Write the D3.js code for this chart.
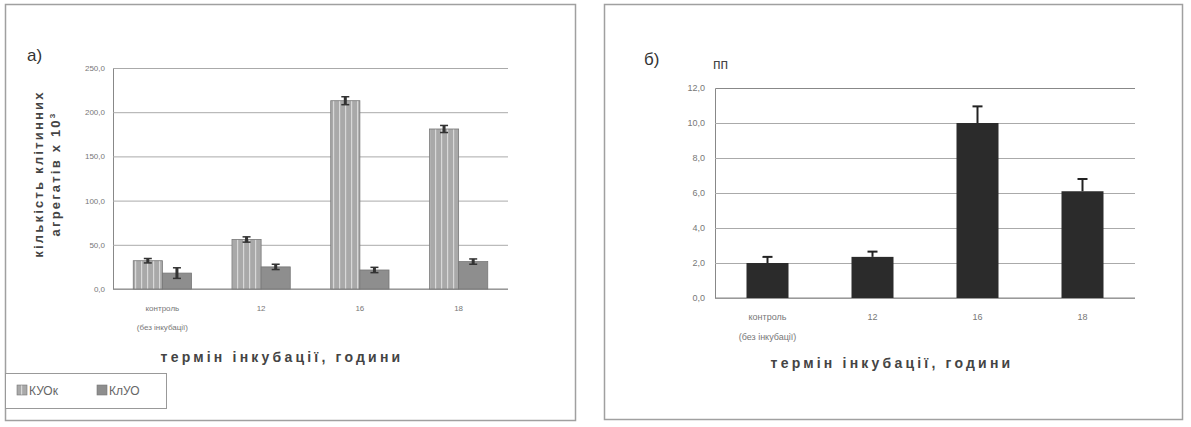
<!DOCTYPE html>
<html>
<head>
<meta charset="utf-8">
<script src="https://cdn.jsdelivr.net/npm/d3@7"></script>
<style>
  body { margin: 0; background: #fff; }
  svg { font-family: "Liberation Sans", Arial, sans-serif; }
</style>
</head>
<body>
<div id="chart-area"></div>
<script>
// data
const categories = [["контроль", "(без інкубації)"], ["12"], ["16"], ["18"]]
const seriesNames = ["КУОк", "КлУО"]
const kuokValues = [32, 56, 213, 181]
const kuokErrors = [2.5, 3, 4.5, 4]
const kluoValues = [18, 25, 21.5, 31]
const kluoErrors = [6, 3, 3, 3]
const ticksA = [0, 50, 100, 150, 200, 250]

const ppValues = [2.0, 2.35, 10.0, 6.1]
const ppErrors = [0.35, 0.3, 0.95, 0.7]
const ticksB = [0, 2, 4, 6, 8, 10, 12]

const fmt = v => d3.format(".1f")(v).replace(".", ",")
const catKeys = categories.map((c, i) => i)

const svg = d3.select("#chart-area").append("svg")
  .attr("width", 1191)
  .attr("height", 427)

const defs = svg.append("defs")
const pat = defs.append("pattern")
  .attr("id", "stripes")
  .attr("patternUnits", "userSpaceOnUse")
  .attr("width", 6)
  .attr("height", 10)
pat.append("rect").attr("width", 6).attr("height", 10).attr("fill", "#a9a9a9")
pat.append("rect").attr("x", 3).attr("width", 1.2).attr("height", 10).attr("fill", "#d8d8d8")

// panel frames
svg.append("rect").attr("x", 5.5).attr("y", 4.5).attr("width", 570).attr("height", 416)
  .attr("fill", "none").attr("stroke", "#a0a0a0").attr("stroke-width", 1.5)
svg.append("rect").attr("x", 604.5).attr("y", 4.5).attr("width", 578).attr("height", 415)
  .attr("fill", "none").attr("stroke", "#a0a0a0").attr("stroke-width", 1.5)

// ---------- chart a) ----------
const A = { LEFT: 113, RIGHT: 508, TOP: 68, BOTTOM: 289 }

const xA = d3.scaleBand().domain(catKeys).range([A.LEFT, A.RIGHT])
  .paddingInner(0.41).paddingOuter(0.205)
const xA2 = d3.scaleBand().domain([0, 1]).range([0, xA.bandwidth()])
const yA = d3.scaleLinear().domain([0, 250]).range([A.BOTTOM, A.TOP])

const gA = svg.append("g")

gA.append("g")
  .attr("transform", `translate(${A.LEFT}, 0)`)
  .call(d3.axisLeft(yA).tickValues(ticksA).tickFormat(fmt).tickSize(-(A.RIGHT - A.LEFT)).tickPadding(8))
  .call(g => g.select(".domain").attr("stroke", "#888"))
  .call(g => g.selectAll(".tick line").attr("stroke", "#aaa"))
  .call(g => g.selectAll(".tick text").attr("fill", "#777").attr("font-size", 8))

gA.append("line")
  .attr("x1", A.LEFT).attr("x2", A.RIGHT).attr("y1", A.BOTTOM).attr("y2", A.BOTTOM)
  .attr("stroke", "#888")

const seriesA = [
  { values: kuokValues, errors: kuokErrors, fill: "url(#stripes)" },
  { values: kluoValues, errors: kluoErrors, fill: "#8e8e8e" }
]

seriesA.forEach((s, si) => {
  const bars = gA.append("g")
  bars.selectAll("rect")
    .data(s.values)
    .enter().append("rect")
    .attr("x", (d, i) => xA(i) + xA2(si))
    .attr("y", d => yA(d))
    .attr("width", xA2.bandwidth())
    .attr("height", d => A.BOTTOM - yA(d))
    .attr("fill", s.fill)
    .attr("stroke", "#777")
    .attr("stroke-width", 0.8)

  const err = gA.append("g").attr("stroke", "#333")
  s.values.forEach((v, i) => {
    const cx = xA(i) + xA2(si) + xA2.bandwidth() / 2
    const e = s.errors[i]
    err.append("line").attr("x1", cx).attr("x2", cx)
      .attr("y1", yA(v + e)).attr("y2", yA(v - e)).attr("stroke-width", 3)
    err.append("line").attr("x1", cx - 4).attr("x2", cx + 4)
      .attr("y1", yA(v + e)).attr("y2", yA(v + e)).attr("stroke-width", 1.5)
    err.append("line").attr("x1", cx - 4).attr("x2", cx + 4)
      .attr("y1", yA(v - e)).attr("y2", yA(v - e)).attr("stroke-width", 1.5)
  })
})

// category labels
categories.forEach((c, i) => {
  const t = gA.append("text")
    .attr("x", xA(i) + xA.bandwidth() / 2)
    .attr("y", 311)
    .attr("text-anchor", "middle")
    .attr("font-size", 8)
    .attr("fill", "#777")
  c.forEach((line, li) => t.append("tspan")
    .attr("x", xA(i) + xA.bandwidth() / 2)
    .attr("dy", li === 0 ? 0 : 19)
    .text(line))
})

gA.append("text")
  .attr("x", 282).attr("y", 362)
  .attr("text-anchor", "middle")
  .attr("font-size", 14).attr("font-weight", "bold")
  .attr("letter-spacing", 3.2)
  .attr("fill", "#444")
  .text("термін інкубації, години")

// y axis title, two lines rotated
const yTitle = gA.append("text")
  .attr("transform", "rotate(-90)")
  .attr("text-anchor", "middle")
  .attr("font-size", 13).attr("font-weight", "bold")
  .attr("letter-spacing", 2.2)
  .attr("fill", "#444")
yTitle.append("tspan").attr("x", -174).attr("y", 43).text("кількість клітинних")
const l2 = yTitle.append("tspan").attr("x", -174).attr("y", 60).text("агрегатів х 10")
l2.append("tspan").attr("dy", -5).attr("font-size", 8).text("3")

gA.append("text")
  .attr("x", 27).attr("y", 61)
  .attr("font-size", 17)
  .attr("fill", "#333")
  .text("а)")

// legend
const legend = gA.append("g")
legend.append("rect").attr("x", 5.5).attr("y", 373.5).attr("width", 161).attr("height", 35)
  .attr("fill", "#fff").attr("stroke", "#999")
const legendX = [17, 97]
seriesNames.forEach((name, i) => {
  legend.append("rect")
    .attr("x", legendX[i]).attr("y", 385).attr("width", 10).attr("height", 10)
    .attr("fill", seriesA[i].fill).attr("stroke", "#777").attr("stroke-width", 0.6)
  legend.append("text")
    .attr("x", legendX[i] + 12).attr("y", 395)
    .attr("font-size", 12).attr("fill", "#666")
    .text(name)
})

// ---------- chart б) ----------
const B = { LEFT: 715, RIGHT: 1135, TOP: 88, BOTTOM: 298 }

const xB = d3.scaleBand().domain(catKeys).range([B.LEFT, B.RIGHT])
  .paddingInner(0.6).paddingOuter(0.3)
const yB = d3.scaleLinear().domain([0, 12]).range([B.BOTTOM, B.TOP])

const gB = svg.append("g")

gB.append("g")
  .attr("transform", `translate(${B.LEFT}, 0)`)
  .call(d3.axisLeft(yB).tickValues(ticksB).tickFormat(fmt).tickSize(-(B.RIGHT - B.LEFT)).tickPadding(10))
  .call(g => g.select(".domain").attr("stroke", "#888"))
  .call(g => g.selectAll(".tick line").attr("stroke", "#aaa"))
  .call(g => g.selectAll(".tick").filter(d => d === 12).select("line").attr("stroke", "none"))
  .call(g => g.selectAll(".tick text").attr("fill", "#777").attr("font-size", 9))

gB.append("line")
  .attr("x1", B.LEFT).attr("x2", B.RIGHT).attr("y1", B.BOTTOM).attr("y2", B.BOTTOM)
  .attr("stroke", "#888")

gB.selectAll(".bar")
  .data(ppValues)
  .enter().append("rect")
  .attr("class", "bar")
  .attr("x", (d, i) => xB(i))
  .attr("y", d => yB(d))
  .attr("width", xB.bandwidth())
  .attr("height", d => B.BOTTOM - yB(d))
  .attr("fill", "#2b2b2b")

const errB = gB.append("g").attr("stroke", "#222")
ppValues.forEach((v, i) => {
  const cx = xB(i) + xB.bandwidth() / 2
  errB.append("line").attr("x1", cx).attr("x2", cx)
    .attr("y1", yB(v)).attr("y2", yB(v + ppErrors[i])).attr("stroke-width", 2)
  errB.append("line").attr("x1", cx - 5).attr("x2", cx + 5)
    .attr("y1", yB(v + ppErrors[i])).attr("y2", yB(v + ppErrors[i])).attr("stroke-width", 2)
})

categories.forEach((c, i) => {
  const t = gB.append("text")
    .attr("y", 320)
    .attr("text-anchor", "middle")
    .attr("font-size", 9)
    .attr("fill", "#777")
  c.forEach((line, li) => t.append("tspan")
    .attr("x", xB(i) + xB.bandwidth() / 2)
    .attr("dy", li === 0 ? 0 : 20)
    .text(line))
})

gB.append("text")
  .attr("x", 892).attr("y", 368)
  .attr("text-anchor", "middle")
  .attr("font-size", 14).attr("font-weight", "bold")
  .attr("letter-spacing", 3.2)
  .attr("fill", "#444")
  .text("термін інкубації, години")

gB.append("text")
  .attr("x", 644).attr("y", 65)
  .attr("font-size", 17)
  .attr("fill", "#333")
  .text("б)")

gB.append("text")
  .attr("x", 713).attr("y", 69)
  .attr("font-size", 14)
  .attr("fill", "#444")
  .text("пп")
</script>
</body>
</html>
